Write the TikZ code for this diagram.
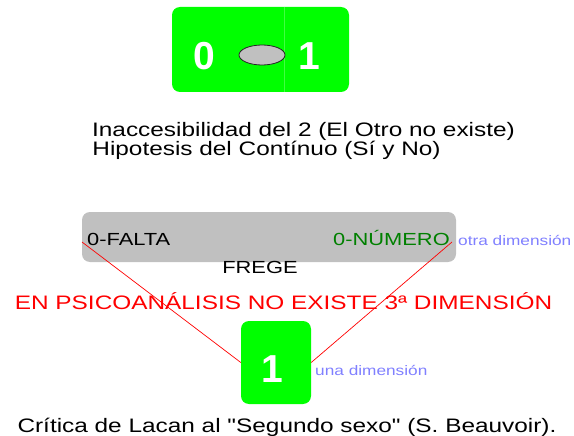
\documentclass[tikz,border=0pt]{standalone}
\usepackage{fontspec}
\setmainfont{Liberation Sans}[FakeStretch=1.25, Ligatures=TeXOff]
\newfontfamily\digitfont{Liberation Sans}
\usepackage{tikz}
\usetikzlibrary{shapes.geometric, positioning}
\definecolor{vivagreen}{HTML}{00FF00}
\definecolor{fregegray}{HTML}{C0C0C0}
\definecolor{numgreen}{HTML}{008000}
\definecolor{dimblue}{HTML}{8080FF}
\definecolor{psired}{HTML}{FF0000}

\begin{document}
\begin{tikzpicture}[x=1pt, y=-1pt,
  greenbox/.style={fill=vivagreen, rounded corners=8pt, inner sep=0pt},
  digit/.style={text=white, font=\digitfont\fontsize{39}{42}\selectfont\bfseries, inner sep=0pt, anchor=base},
  txt/.style={font=\fontsize{19.5}{22}\selectfont, inner sep=0pt, anchor=base},
  lbl/.style={font=\fontsize{17.5}{20}\selectfont, inner sep=0pt, anchor=base},
  dim/.style={text=dimblue, font=\fontsize{13.8}{16}\selectfont, inner sep=0pt, anchor=base west},
  redline/.style={psired, line width=0.7pt}]
  \useasboundingbox[fill=white] (0,0) rectangle (574,436);
  \node[greenbox, minimum width=177pt, minimum height=85pt] (pair) at (260.5,49.5) {};
  \draw[vivagreen!75!white, line width=0.5pt] (pair.north -| 284,0) -- (pair.south -| 284,0);
  \node[digit] (zero) at (204,70) {0};
  \node[ellipse, draw=black!85, fill=fregegray, line width=0.8pt, minimum width=46pt, minimum height=20pt, inner sep=0pt] (cut) at (262,55) {};
  \node[digit] (uno) at (309.5,70) {1};
  \node[txt] (otro) at (303.5,137) {Inaccesibilidad del 2 (El Otro no existe)};
  \node[txt] (continuo) at (266.5,156) {Hipotesis del Contínuo (Sí y No)};
  \node[fill=fregegray, rounded corners=8pt, minimum width=374pt, minimum height=50pt, inner sep=0pt] (frege) at (269,237) {};
  \node[lbl, anchor=base west] (falta) at (87,245) {0-FALTA};
  \node[lbl, anchor=base east, text=numgreen] (numero) at (450,245) {0-NÚMERO};
  \node[lbl] (fregename) at (260,273) {FREGE};
  \node[dim] (otra) at (458,245) {otra dimensión};
  \node[txt, text=psired] (tercera) at (283.5,309) {EN PSICOANÁLISIS NO EXISTE 3ª DIMENSIÓN};
  \node[greenbox, minimum width=70pt, minimum height=83pt] (one) at (276,362.5) {};
  \node[digit] (onedigit) at (272,382) {1};
  \node[dim] (una) at (315,375) {una dimensión};
  \node[txt] (critica) at (287,432) {Crítica de Lacan al "Segundo sexo" (S. Beauvoir).};
  \coordinate (faltaend) at (82,242);
  \coordinate (numeroend) at (452,242);
  \draw[redline] (faltaend) -- (one.west);
  \draw[redline] (numeroend) -- (one.east);
\end{tikzpicture}
\end{document}
